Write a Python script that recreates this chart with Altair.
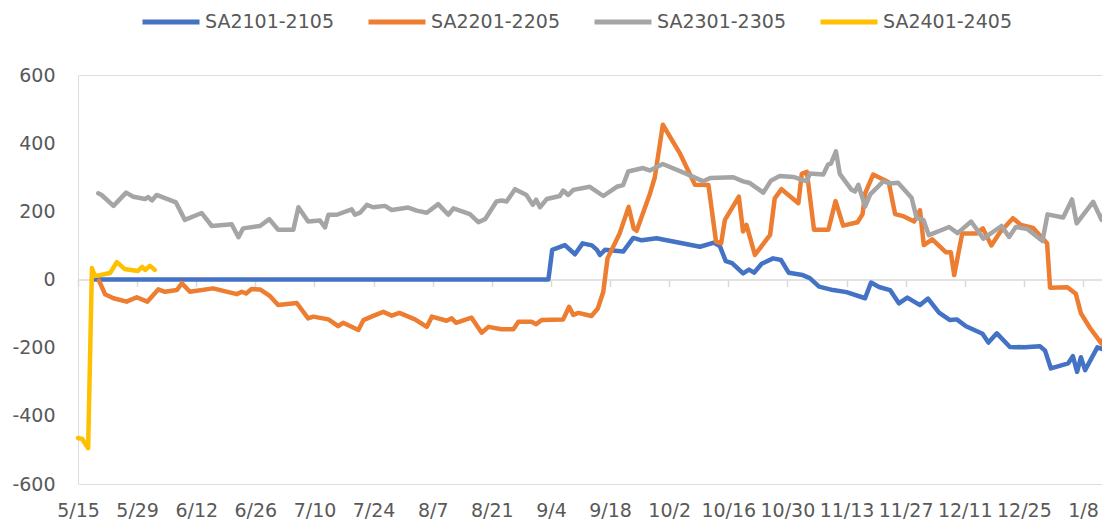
import altair as alt
import pandas as pd

SERIES = ["SA2101-2105", "SA2201-2205", "SA2301-2305", "SA2401-2405"]
COLORS = ["#4472C4", "#ED7D31", "#A5A5A5", "#FFC000"]

TICK_LABELS = ["5/15", "5/29", "6/12", "6/26", "7/10", "7/24", "8/7", "8/21", "9/4",
               "9/18", "10/2", "10/16", "10/30", "11/13", "11/27", "12/11", "12/25", "1/8"]
TICK_DAYS = [0, 14, 28, 42, 56, 70, 84, 98, 112, 126, 140, 154, 168, 182, 196, 210, 224, 238]
Y_TICKS = [-600, -400, -200, 0, 200, 400, 600]

# days counted from 5/15
SA2101_DAYS = [4.0, 111.4, 112.3, 115.3, 117.7, 119.5, 121.7, 122.9, 123.6, 124.8,
               129.1, 131.5, 133.5, 137.0, 147.3, 150.6, 152.0, 153.4, 154.9, 157.5,
               158.9, 160.1, 161.9, 164.6, 166.5, 168.3, 171.6, 173.3, 175.5, 178.8,
               182.0, 186.4, 187.8, 189.7, 192.3, 194.4, 196.4, 199.4, 201.3, 203.9,
               206.5, 208.1, 210.3, 214.2, 215.6, 217.6, 220.7, 224.2, 227.8, 229.0,
               230.4, 234.5, 235.6, 236.6, 237.5, 238.5, 241.4, 242.6, 243.6, 244.1]
SA2101_VALS = [0, 0, 87, 101, 74, 106, 100, 87, 72, 87,
               82, 122, 115, 121, 96, 108, 98, 54, 48, 18,
               29, 20, 46, 62, 57, 20, 13, 4, -21, -31,
               -37, -55, -9, -22, -31, -70, -53, -75, -56, -97,
               -119, -117, -137, -159, -185, -158, -198, -199, -196, -208,
               -261, -246, -225, -271, -228, -266, -199, -204, -197, -220]

SA2201_DAYS = [5.0, 6.4, 8.4, 11.5, 13.9, 16.4, 19.0, 20.6, 23.4, 24.6,
               26.5, 32.0, 37.6, 38.8, 39.8, 41.1, 43.1, 45.5, 47.4, 51.8,
               54.5, 55.7, 59.3, 61.6, 62.8, 66.4, 67.6, 69.5, 72.3, 74.3,
               76.1, 79.8, 82.6, 83.8, 87.3, 88.5, 89.5, 93.2, 95.6, 97.2,
               100.3, 103.1, 104.3, 107.4, 108.5, 109.8, 114.9, 116.3, 117.3, 118.5,
               121.6, 123.1, 124.4, 125.4, 128.3, 130.4, 131.6, 132.3, 135.4, 136.6,
               138.5, 142.5, 146.1, 149.3, 151.1, 152.3, 153.2, 156.5, 157.5, 158.3,
               160.3, 163.9, 165.0, 166.6, 170.6, 171.4, 172.6, 174.3, 177.7, 179.4,
               181.2, 184.6, 185.8, 186.4, 188.3, 192.0, 193.5, 195.6, 198.0, 199.4,
               200.3, 202.3, 205.5, 206.7, 207.5, 209.4, 212.8, 214.3, 216.3, 218.3,
               221.4, 223.3, 226.2, 228.6, 229.5, 230.2, 234.3, 236.3, 237.5, 239.7,
               242.4, 243.2, 244.2]
SA2201_VALS = [-4, -43, -55, -65, -52, -65, -29, -36, -31, -11,
               -36, -26, -43, -36, -41, -28, -29, -49, -75, -69,
               -114, -109, -117, -137, -127, -148, -119, -109, -95, -106,
               -98, -117, -139, -109, -121, -114, -127, -112, -156, -139,
               -146, -146, -124, -124, -131, -119, -117, -80, -104, -98,
               -107, -85, -36, 62, 136, 213, 150, 143, 250, 300,
               454, 371, 278, 277, 111, 106, 175, 243, 141, 160,
               72, 131, 238, 265, 224, 310, 316, 146, 146, 230,
               158, 168, 192, 253, 308, 285, 192, 185, 170, 203,
               101, 118, 80, 80, 13, 135, 135, 150, 100, 138,
               180, 160, 151, 118, 106, -24, -23, -42, -99, -143,
               -188, -166, -200]

SA2301_DAYS = [4.8, 5.6, 8.4, 11.4, 13.1, 15.9, 16.6, 17.5, 18.6, 23.2,
               25.3, 29.3, 31.7, 36.4, 38.0, 39.1, 43.1, 45.3, 47.4, 51.0,
               52.2, 54.5, 57.3, 58.5, 59.3, 61.3, 64.8, 65.6, 66.8, 68.4,
               69.9, 72.7, 74.3, 78.2, 80.2, 82.6, 85.3, 87.7, 88.9, 92.8,
               94.8, 96.4, 99.1, 100.3, 101.5, 103.5, 106.2, 107.7, 108.5, 109.4,
               111.0, 114.1, 114.9, 116.1, 117.3, 121.2, 124.4, 127.6, 129.1, 130.3,
               133.8, 135.4, 138.5, 144.1, 148.1, 149.7, 155.2, 157.5, 159.1, 162.3,
               164.1, 166.2, 169.4, 172.6, 173.3, 176.5, 177.6, 178.3, 179.5, 180.4,
               183.2, 184.0, 184.8, 186.4, 187.6, 190.7, 192.3, 194.2, 197.4, 198.6,
               200.2, 201.5, 206.3, 208.3, 211.5, 214.4, 218.7, 220.5, 222.1, 224.8,
               228.4, 229.6, 233.3, 235.4, 236.5, 240.4, 242.4, 243.6]
SA2301_VALS = [253, 248, 216, 255, 243, 236, 242, 232, 248, 226,
               175, 195, 157, 162, 124, 150, 157, 177, 146, 146,
               212, 170, 173, 153, 190, 190, 206, 190, 196, 219,
               212, 216, 204, 211, 202, 196, 221, 190, 209, 192,
               168, 177, 229, 232, 229, 265, 248, 219, 234, 212,
               236, 245, 261, 248, 263, 272, 245, 272, 277, 317,
               327, 320, 339, 310, 288, 298, 300, 288, 283, 255,
               290, 304, 301, 288, 311, 308, 337, 340, 376, 310,
               263, 258, 278, 214, 250, 288, 282, 284, 240, 180,
               175, 130, 154, 136, 170, 120, 157, 125, 154, 148,
               113, 191, 182, 235, 165, 228, 175, 214]

SA2401_DAYS = [0.0, 1.0, 2.4, 3.3, 4.0, 7.6, 9.2, 11.0, 14.2, 15.2, 15.9, 17.0, 18.2]
SA2401_VALS = [-465, -468, -495, 34, 10, 19, 51, 31, 25, 37, 28, 40, 28]

rows = []
for name, days, vals in [(SERIES[0], SA2101_DAYS, SA2101_VALS),
                         (SERIES[1], SA2201_DAYS, SA2201_VALS),
                         (SERIES[2], SA2301_DAYS, SA2301_VALS),
                         (SERIES[3], SA2401_DAYS, SA2401_VALS)]:
    for d, v in zip(days, vals):
        rows.append({"series": name, "day": d, "value": v})
df = pd.DataFrame(rows)

FONT = "DejaVu Sans"
TEXT = "#595959"
X_DOMAIN = [0, 242.5]

label_expr = "[" + ",".join("'%s'" % s for s in TICK_LABELS) + "][round(datum.value / 14)]"
y_label_expr = "datum.value < 0 ? '-' + abs(datum.value) : '' + datum.value"

lines = alt.Chart(df).mark_line(strokeWidth=4.5, strokeJoin="round", strokeCap="round").encode(
    x=alt.X("day:Q", scale=alt.Scale(domain=X_DOMAIN, nice=False, zero=False),
            axis=alt.Axis(values=TICK_DAYS, labels=False, ticks=True, tickSize=7, tickWidth=1.5,
                          tickColor="#D9D9D9", domain=True, domainColor="#D9D9D9", domainWidth=1.5,
                          grid=False, offset=-204.5, orient="bottom", title=None)),
    y=alt.Y("value:Q", scale=alt.Scale(domain=[-600, 600], nice=False),
            axis=alt.Axis(values=Y_TICKS, grid=False, domain=False, ticks=False, tickSize=0,
                          labelPadding=23, labelFontSize=19, labelColor=TEXT, labelFont=FONT,
                          labelExpr=y_label_expr, title=None)),
    color=alt.Color("series:N", scale=alt.Scale(domain=SERIES, range=COLORS),
                    legend=alt.Legend(title=None, orient="none", legendX=62, legendY=-84,
                                      direction="horizontal", columns=4, symbolType="stroke",
                                      symbolSize=3249, symbolStrokeWidth=5, labelFontSize=19,
                                      labelFont=FONT, labelColor=TEXT, labelOffset=3,
                                      columnPadding=24, padding=0)),
)

tick_df = pd.DataFrame({"day": TICK_DAYS})
label_layer = alt.Chart(tick_df).mark_point(opacity=0).encode(
    x=alt.X("day:Q", scale=alt.Scale(domain=X_DOMAIN, nice=False, zero=False),
            axis=alt.Axis(values=TICK_DAYS, labelExpr=label_expr, domain=False, ticks=False,
                          tickSize=0, labelPadding=17, grid=False, labelFontSize=19,
                          labelColor=TEXT, labelFont=FONT, labelOverlap=False, labelFlush=False,
                          labelBound=False, orient="bottom", title=None)),
)

chart = alt.layer(lines, label_layer).resolve_axis(x="independent").properties(
    width=1024, height=409,
    padding={"left": 70, "top": 67, "right": 0, "bottom": 36},
    autosize=alt.AutoSizeParams(type="none"),
    background="white",
).configure_view(stroke=None).configure(font=FONT)

chart.save("out.html", embed_options={"renderer": "svg", "actions": False})
